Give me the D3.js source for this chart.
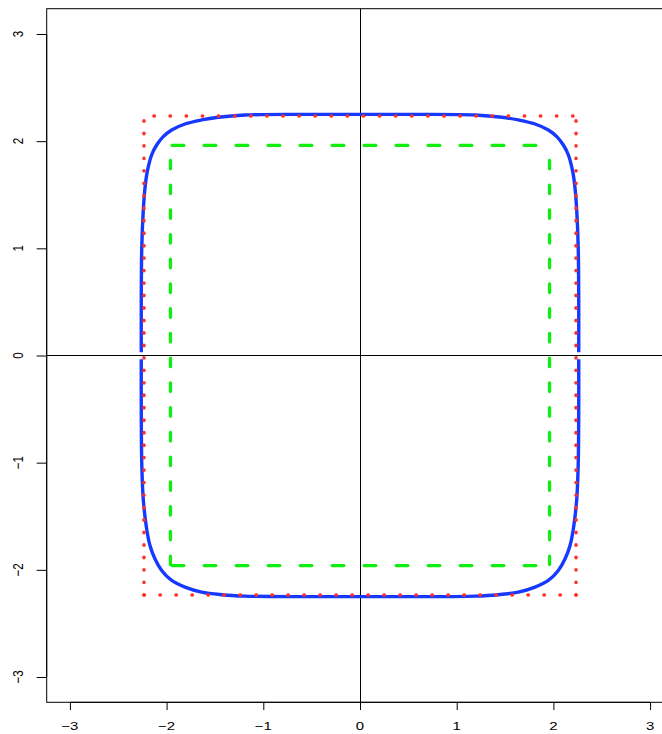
<!DOCTYPE html>
<html>
<head>
<meta charset="utf-8">
<script src="https://cdn.jsdelivr.net/npm/d3@7"></script>
<style>
  html, body { margin: 0; padding: 0; background: #fff; }
  svg { display: block; }
  text { font-family: "Liberation Sans", Arial, Helvetica, sans-serif; }
</style>
</head>
<body>
<svg id="chart" width="662" height="734"></svg>
<script>
// ---------------- data ----------------
const xTicks = [-3, -2, -1, 0, 1, 2, 3];
const yTicks = [-3, -2, -1, 0, 1, 2, 3];
const xLimits = [-3.24, 3.24];
const yLimits = [-3.236, 3.236];

// square bounds (half widths)
const greenBound = 1.96;
const redBound = 2.234;

// blue curve, upper half
const blueUpperX = [-2.262,-2.262,-2.257,-2.242,-2.224,-2.200,-2.155,-2.103,-2.035,-1.948,-1.810,-1.638,-1.466,-1.190,-0.6,0,0.6,1.190,1.466,1.638,1.810,1.948,2.035,2.103,2.155,2.200,2.224,2.242,2.257,2.262,2.262];
const blueUpperY = [0.03,0.5,1.0,1.342,1.560,1.715,1.871,1.964,2.042,2.104,2.160,2.198,2.223,2.244,2.25,2.25,2.25,2.244,2.223,2.198,2.160,2.104,2.042,1.964,1.871,1.715,1.560,1.342,1.0,0.5,0.03];
// blue curve, lower half
const blueLowerX = [-2.262,-2.262,-2.257,-2.242,-2.207,-2.172,-2.121,-2.051,-1.948,-1.810,-1.638,-1.431,-1.190,-0.6,0,0.6,1.190,1.431,1.638,1.810,1.948,2.051,2.121,2.172,2.207,2.242,2.257,2.262,2.262];
const blueLowerY = [-0.035,-0.5,-1.0,-1.333,-1.614,-1.773,-1.897,-2.006,-2.099,-2.161,-2.208,-2.232,-2.245,-2.25,-2.25,-2.25,-2.245,-2.232,-2.208,-2.161,-2.099,-2.006,-1.897,-1.773,-1.614,-1.333,-1.0,-0.5,-0.035];

// ---------------- layout / style ----------------
const svg = d3.select("#chart");
svg.append("rect").attr("width", 662).attr("height", 734).attr("fill", "#fff");

const x = d3.scaleLinear().domain(xLimits).range([46.7, 673.3]);
const y = d3.scaleLinear().domain(yLimits).range([702.3, 8.7]);

const STRETCH = 1.3;
const blueColor = "#1638ff", redColor = "#ff3020", greenColor = "#10ee10";

// reference lines at 0
svg.append("line")
  .attr("x1", x(xLimits[0])).attr("x2", x(xLimits[1]))
  .attr("y1", y(0)).attr("y2", y(0))
  .attr("stroke", "#000").attr("stroke-width", 1);
svg.append("line")
  .attr("x1", Math.round(x(0)) + 0.5).attr("x2", Math.round(x(0)) + 0.5)
  .attr("y1", y(yLimits[1])).attr("y2", y(yLimits[0]))
  .attr("stroke", "#000").attr("stroke-width", 1);

// blue curve
const lineGen = d3.line().x(d => x(d[0])).y(d => y(d[1])).curve(d3.curveCatmullRom.alpha(0.5));
[[blueUpperX, blueUpperY], [blueLowerX, blueLowerY]].forEach(([xs, ys]) => {
  svg.append("path")
    .datum(xs.map((v, i) => [v, ys[i]]))
    .attr("d", lineGen)
    .attr("fill", "none")
    .attr("stroke", blueColor)
    .attr("stroke-width", 3.4)
    .attr("stroke-linejoin", "round");
});

// helper to draw a square side by side with a dash pattern
function side(p0, p1, dash, offset, color, width) {
  svg.append("line")
    .attr("x1", x(p0[0])).attr("y1", y(p0[1]))
    .attr("x2", x(p1[0])).attr("y2", y(p1[1]))
    .attr("stroke", color).attr("stroke-width", width)
    .attr("stroke-linecap", "round")
    .attr("stroke-dasharray", dash)
    .attr("stroke-dashoffset", offset);
}

// red dotted square
const r = redBound;
side([-r, r], [r, r], "0.4,15.7", -10, redColor, 3.5);      // top
side([-r, -r], [r, -r], "0.4,15.6", 0, redColor, 3.5);      // bottom
side([-r, r], [-r, -r], "0.4,12.07", -4.7, redColor, 3.5);  // left
side([r, r], [r, -r], "0.4,12.07", -4.7, redColor, 3.5);    // right

// green dashed square
const g = greenBound;
side([-g, g], [g, g], "11.8,20.2", -1.6, greenColor, 3.3);     // top
side([-g, -g], [g, -g], "11.8,20.2", -1.6, greenColor, 3.3);   // bottom
side([-g, g], [-g, -g], "8.5,16.23", -14.9, greenColor, 3.3);  // left
side([g, g], [g, -g], "8.5,16.23", -14.9, greenColor, 3.3);    // right

// box
svg.append("rect")
  .attr("x", x(xLimits[0])).attr("y", y(yLimits[1]))
  .attr("width", x(xLimits[1]) - x(xLimits[0]))
  .attr("height", y(yLimits[0]) - y(yLimits[1]))
  .attr("fill", "none").attr("stroke", "#000").attr("stroke-width", 1);

// axes (ticks)
const xAxis = d3.axisBottom(x).tickValues(xTicks).tickSize(7.7).tickSizeOuter(0).tickFormat("");
const yAxis = d3.axisLeft(y).tickValues(yTicks).tickSize(10).tickSizeOuter(0).tickFormat("");
const gx = svg.append("g").attr("transform", `translate(0,${y(yLimits[0])})`).call(xAxis);
const gy = svg.append("g").attr("transform", `translate(${x(xLimits[0])},0)`).call(yAxis);
[gx, gy].forEach(a => {
  a.select(".domain").attr("stroke", "#000");
  a.selectAll(".tick line").attr("stroke", "#000");
});
gx.select(".domain").attr("d", `M${x(xTicks[0])},0H${x(xTicks[xTicks.length-1])}`);
gy.select(".domain").attr("d", `M0,${y(yTicks[0])}V${y(yTicks[yTicks.length-1])}`);

const fmt = v => (v < 0 ? "\u2212" + Math.abs(v) : String(v));

svg.append("g").selectAll("text").data(xTicks).join("text")
  .attr("transform", d => `translate(${x(d)},730) scale(${STRETCH},1)`)
  .attr("text-anchor", "middle")
  .attr("font-size", 11.5)
  .attr("fill", "#000")
  .text(fmt);

svg.append("g").selectAll("text").data(yTicks).join("text")
  .attr("transform", d => `translate(23.3,${y(d)}) scale(${STRETCH},1) rotate(-90)`)
  .attr("text-anchor", "middle")
  .attr("font-size", 11.5)
  .attr("fill", "#000")
  .text(fmt);
</script>
</body>
</html>
